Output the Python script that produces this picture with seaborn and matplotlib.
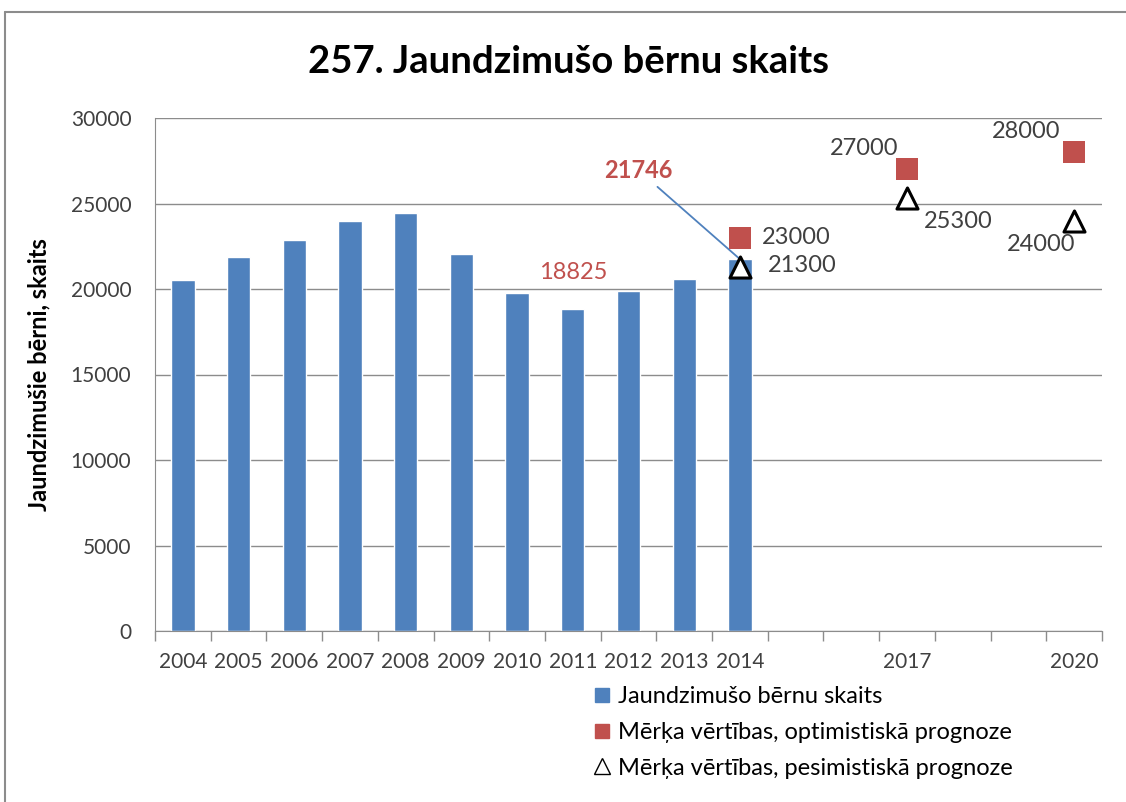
import seaborn as sns
import matplotlib.pyplot as plt
from matplotlib.lines import Line2D
import pandas as pd

# data
order = ['2004', '2005', '2006', '2007', '2008', '2009', '2010', '2011',
         '2012', '2013', '2014', '2015', '2016', '2017', '2018', '2019', '2020']
tick_labels = ['2004', '2005', '2006', '2007', '2008', '2009', '2010', '2011',
               '2012', '2013', '2014', '', '', '2017', '', '', '2020']
bar_years = ['2004', '2005', '2006', '2007', '2008', '2009', '2010', '2011',
             '2012', '2013', '2014']
births = [20550, 21880, 22860, 23980, 24430, 22050, 19770, 18825,
          19880, 20580, 21746]
fc_years = ['2014', '2017', '2020']
optimistic = [23000, 27000, 28000]
pessimistic = [21300, 25300, 24000]

BLUE = '#4F81BD'
RED = '#C0504D'
TXT = '#404040'

sns.set_style('white')
plt.rcParams['font.family'] = ['Lato', 'DejaVu Sans']

fig = plt.figure(figsize=(11.26, 8.02), dpi=100)
ax = fig.add_axes([155 / 1126, 1 - 631 / 802, (1102 - 155) / 1126, (631 - 118) / 802])

df = pd.DataFrame({'year': bar_years, 'births': births})
sns.barplot(data=df, x='year', y='births', order=order, color=BLUE,
            saturation=1, width=0.42, ax=ax, zorder=2)

xpos = [order.index(y) for y in fc_years]
sns.scatterplot(x=xpos, y=optimistic, marker='s', s=240, color=RED,
                edgecolor=RED, linewidth=0, ax=ax, zorder=4, legend=False)
sns.scatterplot(x=xpos, y=pessimistic, marker='^', s=230, facecolor='white',
                edgecolor='black', linewidth=2.2, ax=ax, zorder=5, legend=False)

ax.set_xlim(-0.5, len(order) - 0.5)
ax.set_ylim(0, 30000)
ax.set_yticks(range(0, 30001, 5000))
ax.yaxis.grid(True, color='#8c8c8c', linewidth=1)
ax.set_axisbelow(True)
ax.set_xticks(range(len(order)))
ax.set_xticklabels(tick_labels)
ax.set_xticks([i - 0.5 for i in range(len(order) + 1)], minor=True)
ax.tick_params(axis='x', which='major', length=0, pad=15, labelsize=15, labelcolor=TXT)
ax.tick_params(axis='x', which='minor', length=7, color='#8c8c8c', width=1, direction='out')
ax.tick_params(axis='y', length=0, pad=17, labelsize=15, labelcolor=TXT)
ax.xaxis.set_ticks_position('bottom')
for s in ['top', 'right']:
    ax.spines[s].set_visible(False)
for s in ['left', 'bottom']:
    ax.spines[s].set_color('#8c8c8c')
ax.set_xlabel('')
ax.set_ylabel('Jaundzimušie bērni, skaits', fontsize=17, fontweight='bold',
              color='black', labelpad=15)

fig.suptitle('257. Jaundzimušo bērnu skaits', x=0.505, y=1 - 62 / 802, va='center',
             fontsize=27.5, fontweight='bold', color='black')

# value labels for forecasts
offsets_opt = [((16, 0), 'left', 'center'), ((-6, 15), 'right', 'center'),
               ((-10, 15), 'right', 'center')]
offsets_pes = [((20, 1), 'left', 'center'), ((12, -17), 'left', 'center'),
               ((1, -17), 'right', 'center')]
for x, v, (off, ha, va) in zip(xpos, optimistic, offsets_opt):
    ax.annotate(str(v), (x, v), xytext=off, textcoords='offset points',
                ha=ha, va=va, fontsize=17, color=TXT)
for x, v, (off, ha, va) in zip(xpos, pessimistic, offsets_pes):
    ax.annotate(str(v), (x, v), xytext=off, textcoords='offset points',
                ha=ha, va=va, fontsize=17, color=TXT)

# labels on bars
i_min = births.index(min(births))
ax.annotate(str(births[i_min]), (order.index(bar_years[i_min]), births[i_min]),
            xytext=(0, 26), textcoords='offset points', ha='center', va='center',
            fontsize=17, color=RED)
ax.annotate(str(births[-1]), (order.index(bar_years[-1]), births[-1]),
            xytext=(-73, 64), textcoords='offset points', ha='center', va='center',
            fontsize=17, fontweight='bold', color=RED,
            arrowprops=dict(arrowstyle='-', color=BLUE, lw=1.3, shrinkA=2, shrinkB=0))

handles = [
    Line2D([], [], linestyle='none', marker='s', markersize=10, color=BLUE),
    Line2D([], [], linestyle='none', marker='s', markersize=10, color=RED),
    Line2D([], [], linestyle='none', marker='^', markersize=12, markerfacecolor='white',
           markeredgecolor='black', markeredgewidth=1),
]
labels = ['Jaundzimušo bērnu skaits', 'Mērķa vērtības, optimistiskā prognoze',
          'Mērķa vērtības, pesimistiskā prognoze']
fig.legend(handles, labels, loc='upper left', bbox_to_anchor=(574 / 1126, 1 - 665 / 802),
           frameon=False, fontsize=17, labelspacing=0.62, handlelength=0.6,
           handletextpad=0.35, labelcolor='black')

# outer chart frame
fig.add_artist(Line2D([5 / 1126, 5 / 1126], [0, 1 - 12 / 802], transform=fig.transFigure,
                      color='#8c8c8c', lw=1.5))
fig.add_artist(Line2D([5 / 1126, 1], [1 - 12 / 802, 1 - 12 / 802], transform=fig.transFigure,
                      color='#8c8c8c', lw=1.5))

fig.savefig('out.png', dpi=100)
